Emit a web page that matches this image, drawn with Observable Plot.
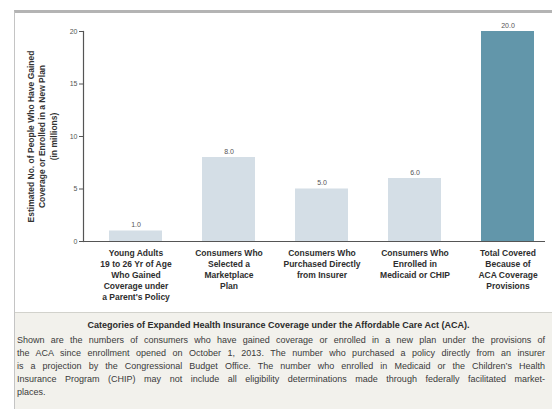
<!DOCTYPE html>
<html>
<head>
<meta charset="utf-8">
<script src="https://cdn.jsdelivr.net/npm/d3@7"></script>
<script src="https://cdn.jsdelivr.net/npm/@observablehq/plot@0.6"></script>
<style>
  html, body { margin: 0; padding: 0; background: #fff; }
  body { width: 552px; height: 409px; position: relative; overflow: hidden;
         font-family: "Liberation Sans", Arial, sans-serif; }
  #frame { position: absolute; left: 14px; top: 10px; width: 560px; height: 420px;
           border-top: 3px solid #b4b4b4; border-left: 1px solid #c4c4c4; }
  #chart { position: absolute; left: 0; top: 0; }
  #caption { position: absolute; left: 15px; top: 312px; width: 537px; height: 97px;
             background: #f2f1ec; border-top: 1px solid #d2d2cc; box-sizing: border-box;
             color: #3a3a3a; }
  #caption .title { font-weight: bold; font-size: 9px; text-align: center;
                    margin: 6px 0 0 -10px; line-height: 12px; color: #2a2a2a; }
  #caption .body { margin: 3px 7px 0 2px; font-size: 9px; line-height: 13px; }
  #caption .body div { text-align: justify; text-align-last: justify; white-space: nowrap; }
  #caption .body div.last { text-align-last: left; }
</style>
</head>
<body>
<div id="frame"></div>
<div id="chart"></div>
<div id="caption"></div>
<script>
// Categories of expanded coverage (millions of people)
const categories = [
  "Young Adults\n19 to 26 Yr of Age\nWho Gained\nCoverage under\na Parent's Policy",
  "Consumers Who\nSelected a\nMarketplace\nPlan",
  "Consumers Who\nPurchased Directly\nfrom Insurer",
  "Consumers Who\nEnrolled in\nMedicaid or CHIP",
  "Total Covered\nBecause of\nACA Coverage\nProvisions"
];
const values = [1.0, 8.0, 5.0, 6.0, 20.0];
const isTotal = [false, false, false, false, true];
const yTicks = [0, 5, 10, 15, 20];
const yLabel = "Estimated No. of People Who Have Gained\nCoverage or Enrolled in a New Plan\n(in millions)";

const captionTitle = "Categories of Expanded Health Insurance Coverage under the Affordable Care Act (ACA).";
const captionLines = [
  "Shown are the numbers of consumers who have gained coverage or enrolled in a new plan under the provisions of",
  "the ACA since enrollment opened on October 1, 2013. The number who purchased a policy directly from an insurer",
  "is a projection by the Congressional Budget Office. The number who enrolled in Medicaid or the Children\u2019s Health",
  "Insurance Program (CHIP) may not include all eligibility determinations made through federally facilitated market-",
  "places."
];

const data = categories.map((c, i) => ({category: c, value: values[i], total: isTotal[i]}));

const chart = Plot.plot({
  width: 552,
  height: 312,
  marginLeft: 83,
  marginRight: 7,
  marginTop: 31,
  marginBottom: 71,
  style: {fontFamily: "'Liberation Sans', Arial, sans-serif", background: "transparent", color: "#333"},
  x: {domain: categories, paddingInner: 0.43, paddingOuter: 0.1725, align: 0.71, label: null},
  y: {domain: [0, 20], label: null},
  marks: [
    Plot.barY(data, {
      x: "category", y: "value",
      fill: d => d.total ? "#6296aa" : "#d4dee6"
    }),
    Plot.text(data, {
      x: "category", y: "value", text: d => d.value.toFixed(1),
      dy: -6, fontSize: 7, fill: "#555"
    }),
    Plot.ruleY([0], {stroke: "#555", strokeWidth: 1.2}),
    Plot.frame({anchor: "left", stroke: "#555", strokeWidth: 1.2}),
    Plot.axisY({
      ticks: yTicks, tickSize: 4, tickPadding: 2, fontSize: 7, stroke: "#555",
      fill: "#555",
      label: yLabel, labelAnchor: "center", labelArrow: "none", labelOffset: 56,
      tickFormat: d => d
    }),
    Plot.axisX({
      tickSize: 0, tickPadding: 7, fontSize: 8.5, fontWeight: "bold",
      lineHeight: 1.28, fill: "#2e2e2e", label: null
    })
  ]
});
document.getElementById("chart").appendChild(chart);

// Style the rotated y-axis title: bold, with looser line spacing
chart.querySelectorAll("[aria-label='y-axis label'] text").forEach(t => {
  t.setAttribute("font-weight", "bold");
  t.setAttribute("font-size", "8.5");
  t.setAttribute("fill", "#333");
  t.querySelectorAll("tspan").forEach((s, i) => { if (i > 0) s.setAttribute("dy", "1.4em"); });
});

const cap = document.getElementById("caption");
const title = document.createElement("div");
title.className = "title";
title.textContent = captionTitle;
cap.appendChild(title);
const body = document.createElement("div");
body.className = "body";
captionLines.forEach((line, i) => {
  const d = document.createElement("div");
  d.textContent = line;
  if (i === captionLines.length - 1) d.className = "last";
  body.appendChild(d);
});
cap.appendChild(body);
</script>
</body>
</html>
